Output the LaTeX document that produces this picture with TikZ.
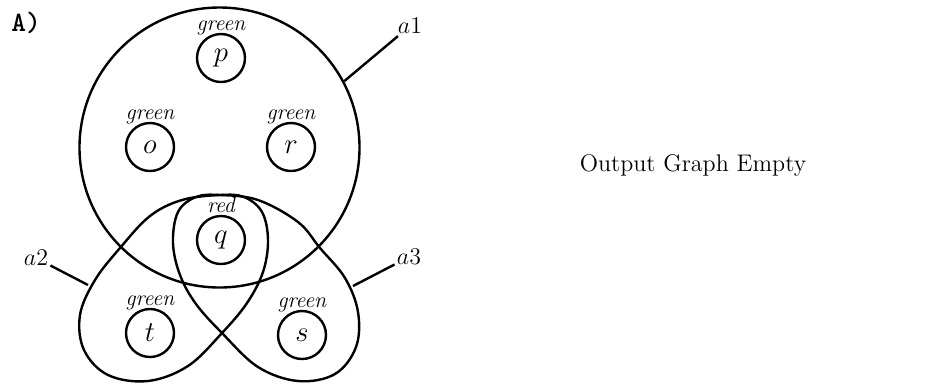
\documentclass[tikz,border=0pt]{standalone}
\usetikzlibrary{shapes}
\begin{document}
\begin{tikzpicture}[x=0.5pt,y=-0.5pt]
	\tikzstyle{vertex}=[draw,circle,line width=1.2pt,minimum size=24pt,inner sep=0pt,font=\fontsize{14}{16}\selectfont]
	\tikzstyle{colour}=[anchor=base,inner sep=0pt,font=\fontsize{11}{12}\selectfont\itshape]
	\tikzstyle{hyper}=[line width=1.2pt]
	\tikzstyle{tag}=[inner sep=1pt,font=\fontsize{13}{15}\selectfont]
	
	\useasboundingbox (0,0) rectangle (948,388);
	
	\node[font=\fontsize{14}{16}\selectfont\ttfamily\bfseries] (title) at (26,23) {A)};
	
	\node[draw,circle,hyper,minimum size=140pt] (A1) at (219.5,147.5) {};
	\draw[hyper] plot[smooth cycle,tension=0.6] coordinates {(220,195) (182,200) (150,216) (120,248) (95,280) (80,315) (84,350) (108,375) (148,381) (188,366) (222,333) (247,303) (263,272) (268,240) (262,212) (244,197)};
	\draw[hyper] plot[smooth cycle,tension=0.6] coordinates {(220,195) (258,200) (298,222) (320,248) (345,278) (358,312) (356,347) (335,374) (298,381) (258,367) (222,333) (196,304) (180,275) (173,243) (178,212) (196,197)};
	
	\node[vertex] (p) at (221,58) {$p$};
	\node[vertex] (o) at (150,147) {$o$};
	\node[vertex] (r) at (291,147) {$r$};
	\node[vertex] (q) at (221,240) {$q$};
	\node[vertex] (t) at (150,333) {$t$};
	\node[vertex] (s) at (302,335) {$s$};
	
	\node[colour] (pc) at ([yshift=1pt]p.north) {green};
	\node[colour] (oc) at ([yshift=1pt]o.north) {green};
	\node[colour] (rc) at ([yshift=1pt]r.north) {green};
	\node[colour] (qc) at ([yshift=1pt]q.north) {red};
	\node[colour] (tc) at ([yshift=1pt]t.north) {green};
	\node[colour] (sc) at ([yshift=1pt]s.north) {green};
	
	\coordinate (a2pt) at (88,285);
	\coordinate (a3pt) at (353,286);
	
	\node[tag] (a1) at (410,26) {$a1$};
	\node[tag] (a2) at (36,258) {$a2$};
	\node[tag] (a3) at (409,257) {$a3$};
	
	\draw[hyper] (a1) -- (A1.28);
	\draw[hyper] (a2) -- (a2pt);
	\draw[hyper] (a3) -- (a3pt);
	
	\node[font=\large] (out) at (693,165) {Output Graph Empty};
	
\end{tikzpicture}
\end{document}
